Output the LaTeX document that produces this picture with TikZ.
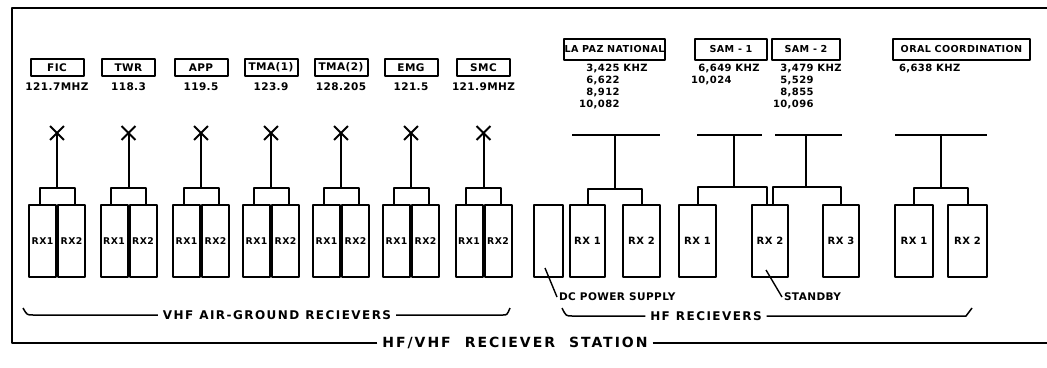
\documentclass[tikz,border=0pt]{standalone}
\usepackage{fontspec}
\setmainfont{DejaVu Sans}
\newfontfamily\wideface{DejaVu Sans Bold}[LetterSpace=12]
\newfontfamily\stationface{DejaVu Sans Bold}[LetterSpace=14]
\newfontfamily\boldface{DejaVu Sans Bold}[LetterSpace=4]
\newcommand{\labelfont}{\boldface\fontsize{10.5}{12}\selectfont}
\newcommand{\hlabelfont}{\boldface\fontsize{9.6}{12}\selectfont}
\newcommand{\freqfont}{\boldface\fontsize{10.5}{11}\selectfont}
\newcommand{\hfreqfont}{\boldface\fontsize{10}{12}\selectfont}
\newcommand{\rxfont}{\boldface\fontsize{9.3}{9}\selectfont}
\newcommand{\hrxfont}{\boldface\fontsize{10}{9}\selectfont}
\newcommand{\notefont}{\boldface\fontsize{10.5}{12}\selectfont}
\newcommand{\titlefont}{\wideface\fontsize{12}{14}\selectfont}
\newcommand{\stfont}{\stationface\fontsize{14}{16}\selectfont}
\usetikzlibrary{shapes.misc}
\begin{document}
\begin{tikzpicture}[x=1pt,y=-1pt,line width=2pt,line join=round,
  lbox/.style={draw,minimum height=17pt,inner sep=1pt,font=\labelfont},
  hbox/.style={draw,minimum height=21pt,inner sep=1pt,font=\hlabelfont},
  half/.style={draw,minimum width=27pt,minimum height=72pt,inner sep=0pt,font=\rxfont},
  rxbox/.style={draw,minimum height=72pt,inner sep=0pt,font=\hrxfont},
  ant/.style={cross out,draw,minimum size=12pt,inner sep=0pt,line width=1.8pt},
  freq/.style={font=\freqfont,inner sep=0pt},
  hfreq/.style={font=\hfreqfont,inner sep=0pt},
  title/.style={font=\titlefont,inner sep=4pt},
  note/.style={font=\notefont,inner sep=1pt},
  frame/.style={line width=1.5pt},
  lead/.style={line width=1.4pt}]
\useasboundingbox (0,0) rectangle (1047,367);
% ---------------- VHF groups
\foreach \i/\c/\lab/\f in {1/57/FIC/121.7MHZ,2/128.5/TWR/118.3,3/201/APP/119.5,
  4/271/{TMA(1)}/123.9,5/341/{TMA(2)}/128.205,6/411/EMG/121.5,7/483.5/SMC/121.9MHZ}{
  \node[lbox,minimum width=53pt] (l\i) at (\c,67.5) {\lab};
  \node[freq] (f\i) at (\c,87) {\f};
  \node[ant] (x\i) at (\c,133) {};
  \coordinate (j\i) at (\c,188);
  \node[half,anchor=east] (a\i) at (\c,241) {RX1};
  \node[half,anchor=west] (b\i) at (\c,241) {RX2};
  \draw (x\i.center) -- (j\i);
  \draw ([xshift=-3pt]a\i.north) |- (j\i) -| ([xshift=3pt]b\i.north);
}
% ---------------- HF labels
\node[hbox,minimum width=95pt] (lp) at (614.5,49.5) {LA PAZ NATIONAL};
\node[hbox,minimum width=72pt] (s1) at (731,49.5) {SAM - 1};
\node[hbox,minimum width=68pt] (s2) at (806,49.5) {SAM - 2};
\node[hbox,minimum width=137pt] (oc) at (961.5,49.5) {ORAL COORDINATION};
\node[hfreq,anchor=north west] (flp) at (578,62)
  {\begin{tabular}{@{}r@{ }l@{}}3,425&KHZ\\6,622&\\8,912&\\10,082&\end{tabular}};
\node[hfreq,anchor=north west] (fs1) at (690,62)
  {\begin{tabular}{@{}r@{ }l@{}}6,649&KHZ\\10,024&\end{tabular}};
\node[hfreq,anchor=north west] (fs2) at (772,62)
  {\begin{tabular}{@{}r@{ }l@{}}3,479&KHZ\\5,529&\\8,855&\\10,096&\end{tabular}};
\node[hfreq,anchor=north west] (foc) at (898,62)
  {\begin{tabular}{@{}r@{ }l@{}}6,638&KHZ\end{tabular}};
% ---------------- HF aerial T bars
\coordinate (tlpL) at (572,135); \coordinate (tlpR) at (660,135); \coordinate (tlp) at (615,135);
\coordinate (ts1L) at (697,135); \coordinate (ts1R) at (762,135); \coordinate (ts1) at (734,135);
\coordinate (ts2L) at (775,135); \coordinate (ts2R) at (842,135); \coordinate (ts2) at (806,135);
\coordinate (tocL) at (895,135); \coordinate (tocR) at (987,135); \coordinate (toc) at (941,135);
\coordinate (jlp) at (615,189); \coordinate (js1) at (734,187);
\coordinate (js2) at (806,187); \coordinate (joc) at (941,188);
\draw (tlpL) -- (tlpR); \draw (tlp) -- (jlp);
\draw (ts1L) -- (ts1R); \draw (ts1) -- (js1);
\draw (ts2L) -- (ts2R); \draw (ts2) -- (js2);
\draw (tocL) -- (tocR); \draw (toc) -- (joc);
% ---------------- HF receivers
\node[rxbox,minimum width=29pt] (dc) at (548.5,241) {};
\node[rxbox,minimum width=35pt] (lr1) at (587.5,241) {RX 1};
\node[rxbox,minimum width=37pt] (lr2) at (641.5,241) {RX 2};
\node[rxbox,minimum width=37pt] (sr1) at (697.5,241) {RX 1};
\node[rxbox,minimum width=36pt] (sr2) at (770,241) {RX 2};
\node[rxbox,minimum width=36pt] (sr3) at (841,241) {RX 3};
\node[rxbox,minimum width=38pt] (or1) at (914,241) {RX 1};
\node[rxbox,minimum width=39pt] (or2) at (967.5,241) {RX 2};
\draw (lr1.north) |- (jlp) -| (lr2.north);
\draw (sr1.north) |- (js1) -| ([xshift=-3pt]sr2.north);
\draw ([xshift=3pt]sr2.north) |- (js2) -| (sr3.north);
\draw (or1.north) |- (joc) -| (or2.north);
% ---------------- notes
\node[note,anchor=west] (dcl) at (557,297) {DC POWER SUPPLY};
\node[note,anchor=west] (sbl) at (782,297) {STANDBY};
\coordinate (dcp) at (545,268); \coordinate (sbp) at (766,270);
\draw[lead] (dcp) -- (dcl.west);
\draw[lead] (sbp) -- (sbl.west);
% ---------------- braces
\node[title] (vhf) at (277,315) {VHF\enspace AIR-GROUND\enspace RECIEVERS};
\coordinate (vL) at (23,308); \coordinate (vR) at (510,308);
\draw[frame] (vhf.west) -- (33,315) .. controls (27,315) .. (vL);
\draw[frame] (vhf.east) -- (503,315) .. controls (507,315) .. (vR);
\node[title] (hf) at (706,316) {HF\enspace RECIEVERS};
\coordinate (hL) at (562,308); \coordinate (hR) at (972,308);
\draw[frame] (hf.west) -- (572,316) .. controls (566,316) .. (hL);
\draw[frame] (hf.east) -- (966,316) -- (hR);
% ---------------- station frame
\node[font=\stfont,inner sep=4pt] (st) at (515,343) {HF/VHF\quad RECIEVER\quad STATION};
\coordinate (fBL) at (12,343); \coordinate (fTL) at (12,8);
\coordinate (fTR) at (1047,8); \coordinate (fBR) at (1047,343);
\draw[frame] (st.west) -- (fBL) -- (fTL) -- (fTR);
\draw[frame] (st.east) -- (fBR);
\end{tikzpicture}
\end{document}
